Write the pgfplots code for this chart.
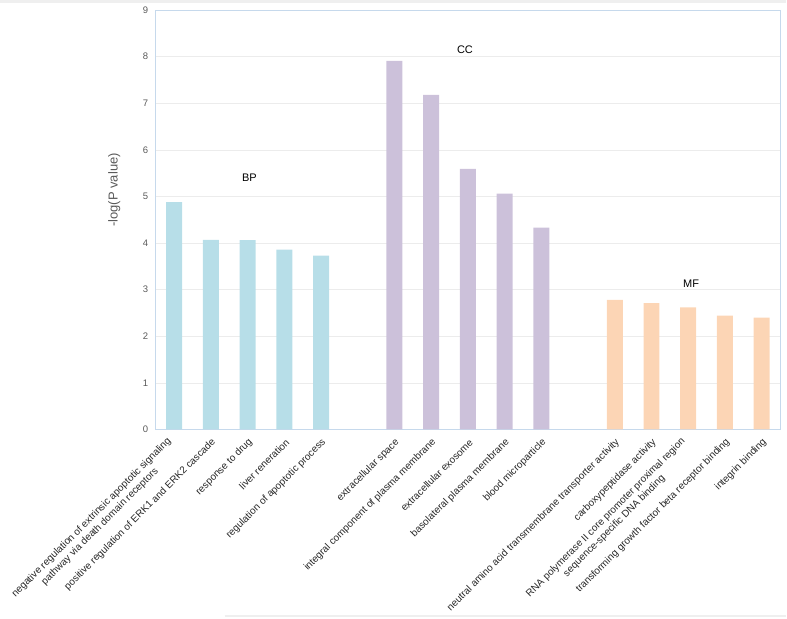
\documentclass[border=0pt]{standalone}
\usepackage{fontspec}
\setmainfont{Liberation Sans}
\usepackage{pgfplots}
\pgfplotsset{compat=1.18}
\definecolor{bpc}{HTML}{B7DEE8}
\definecolor{ccc}{HTML}{CCC1DA}
\definecolor{mfc}{HTML}{FCD5B5}
\definecolor{framec}{HTML}{C6D9EC}
\definecolor{gridc}{HTML}{ECECEC}
\definecolor{tickc}{HTML}{595959}
\definecolor{edgec}{HTML}{EFEFEF}
\begin{document}
\begin{tikzpicture}
\begin{axis}[
  name=ax,
  scale only axis, width=625pt, height=420pt,
  xmin=-0.5, xmax=16.5, ymin=0, ymax=9,
  ytick={0,1,...,9},
  xtick={0,1,2,3,4,6,7,8,9,10,12,13,14,15,16},
  xticklabels={{negative regulation of extrinsic apoptotic signaling\hspace*{5pt}\\pathway via death domain receptors\hspace*{5pt}},
    {positive regulation of ERK1 and ERK2 cascade},
    {response to drug},
    {liver reneration},
    {regulation of apoptotic process},
    {extracellular space},
    {integral component of plasma membrane},
    {extracellular exosome},
    {basolateral plasma membrane},
    {blood microparticle},
    {neutral amino acid transmembrane transporter activity},
    {carboxypeptidase activity},
    {RNA polymerase II core promoter proximal region\hspace*{5pt}\\sequence-specific DNA binding\hspace*{5pt}},
    {transforming growth factor beta receptor binding},
    {integrin binding}},
  xticklabel style={xshift=4pt, yshift=-10.5pt, rotate=45, anchor=east, align=center, font=\fontsize{10}{12}\selectfont, text=black!85, inner sep=1pt},
  yticklabel style={font=\fontsize{9.5}{11}\selectfont, text=tickc, xshift=-4pt},
  /pgf/number format/assume math mode=true,
  major tick length=0pt,
  axis line style={framec, line width=0.8pt},
  ymajorgrids, grid style={gridc, line width=0.6pt},
  ylabel={-log(P value)},
  ylabel style={font=\fontsize{13}{15}\selectfont, text=tickc, at={(rel axis cs:0,0.571)}, anchor=south, yshift=32pt},
  ybar, bar width=16pt,
]
\addplot[fill=bpc, draw=none, bar shift=0pt] coordinates {(0,4.88)(1,4.07)(2,4.06)(3,3.86)(4,3.73)};
\addplot[fill=ccc, draw=none, bar shift=0pt] coordinates {(6,7.91)(7,7.18)(8,5.59)(9,5.06)(10,4.33)};
\addplot[fill=mfc, draw=none, bar shift=0pt] coordinates {(12,2.78)(13,2.71)(14,2.62)(15,2.44)(16,2.40)};
\node[font=\fontsize{11}{13}\selectfont] at (axis cs:2.05,5.40) {BP};
\node[font=\fontsize{11}{13}\selectfont] at (axis cs:7.92,8.14) {CC};
\node[font=\fontsize{11}{13}\selectfont] at (axis cs:14.08,3.13) {MF};
\end{axis}
\path (ax.south west) ++(-156pt,-189pt) coordinate (bl);
\path (ax.north east) ++(6pt,10pt) coordinate (tr);
\path (bl) rectangle (tr);
\fill[edgec] ([yshift=-3pt]bl |- tr) rectangle (tr);
\draw[edgec, line width=2pt] ([xshift=225pt, yshift=2pt]bl) -- ([yshift=2pt]bl -| tr);
\end{tikzpicture}
\end{document}
